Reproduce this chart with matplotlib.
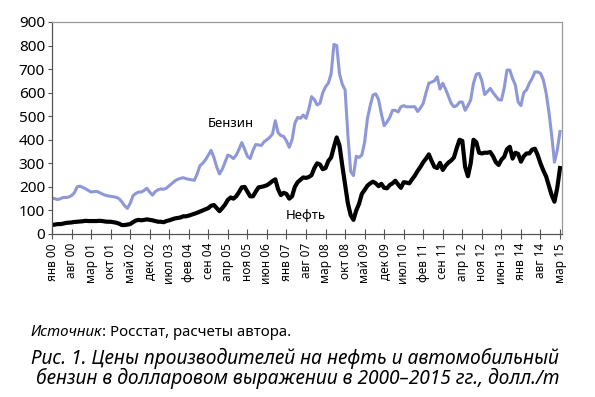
import matplotlib
matplotlib.use("Agg")
import matplotlib.pyplot as plt
import numpy as np

plt.rcParams["font.family"] = ["Noto Sans", "DejaVu Sans"]

# monthly producer prices, USD per tonne, Jan 2000 .. Mar 2015
benzin = [
    152, 150, 146, 150, 155, 155, 157, 163, 175, 200, 203, 198,  # 2000
    192, 185, 178, 180, 181, 176, 170, 165, 162, 160, 158, 156,  # 2001
    150, 137, 120, 109, 130, 162, 172, 178, 178, 185, 194, 178,  # 2002
    165, 180, 188, 191, 190, 195, 205, 215, 225, 232, 236, 239,  # 2003
    235, 232, 230, 228, 255, 290, 300, 315, 335, 355, 325, 285,  # 2004
    255, 275, 305, 335, 330, 320, 335, 360, 388, 360, 330, 320,  # 2005
    355, 380, 378, 376, 392, 400, 410, 425, 481, 430, 418, 414,  # 2006
    395, 368, 400, 470, 495, 491, 505, 491, 530, 583, 570, 548,  # 2007
    555, 600, 625, 640, 680, 805, 800, 680, 635, 612, 420, 265,  # 2008
    248, 330, 325, 335, 390, 490, 545, 590, 595, 570, 510, 460,  # 2009
    475, 495, 525, 525, 518, 540, 545, 540, 540, 540, 540, 520,  # 2010
    535, 555, 600, 640, 645, 650, 668, 615, 640, 615, 585, 555,  # 2011
    540, 545, 560, 560, 525, 545, 570, 640, 678, 682, 650, 592,  # 2012
    605, 618, 600, 585, 570, 568, 620, 696, 696, 660, 632, 560,  # 2013
    545, 600, 612, 640, 660, 688, 688, 682, 655, 600, 520, 420,  # 2014
    305, 355, 435,                                               # 2015
]

neft = [
    38, 40, 42, 42, 44, 47, 48, 49, 51, 52, 53, 54,              # 2000
    56, 55, 55, 55, 55, 56, 55, 53, 52, 52, 50, 48,              # 2001
    44, 38, 38, 40, 42, 50, 57, 60, 58, 60, 62, 60,              # 2002
    58, 55, 52, 52, 50, 55, 58, 62, 66, 68, 70, 75,              # 2003
    75, 78, 82, 86, 90, 95, 100, 105, 110, 120, 123, 110,        # 2004
    97, 110, 125, 145, 155, 150, 160, 178, 198, 200, 180, 160,   # 2005
    160, 180, 198, 200, 203, 207, 215, 225, 232, 190, 165, 175,  # 2006
    170, 150, 160, 200, 220, 230, 240, 238, 242, 250, 280, 300,  # 2007
    295, 275, 280, 310, 325, 370, 410, 375, 290, 210, 130, 80,   # 2008
    60, 100, 128, 170, 187, 205, 215, 222, 215, 203, 213, 196,   # 2009
    194, 208, 215, 226, 210, 196, 220, 218, 215, 232, 248, 268,  # 2010
    285, 305, 320, 338, 310, 285, 280, 302, 272, 290, 303, 312,  # 2011
    325, 365, 400, 395, 285, 245, 300, 400, 390, 345, 342, 345,  # 2012
    345, 348, 330, 305, 293, 315, 328, 360, 370, 320, 345, 340,  # 2013
    307, 330, 342, 342, 358, 362, 335, 300, 270, 245, 205, 165,  # 2014
    137, 195, 280,                                               # 2015
]

tick_labels = [
    "янв 00", "авг 00", "мар 01", "окт 01", "май 02", "дек 02", "июл 03",
    "фев 04", "сен 04", "апр 05", "ноя 05", "июн 06", "янв 07", "авг 07",
    "мар 08", "окт 08", "май 09", "дек 09", "июл 10", "фев 11", "сен 11",
    "апр 12", "ноя 12", "июн 13", "янв 14", "авг 14", "мар 15",
]

months = np.arange(len(benzin))

fig = plt.figure(figsize=(5.95, 3.97), dpi=100)
ax = fig.add_axes([0.0874, 0.4106, 0.8571, 0.534])

ax.plot(months, benzin, color="#8E98D6", lw=2.2, solid_joinstyle="round")
ax.plot(months, neft, color="black", lw=3.0, solid_joinstyle="round")

ax.set_xlim(0, 182.7)
ax.set_ylim(0, 900)
ax.set_yticks(range(0, 901, 100))
ax.set_xticks(months[::7])
ax.set_xticklabels(tick_labels, rotation=90, fontsize=8.5)
ax.tick_params(axis="x", direction="inout", length=7, width=0.8, color="#555555", pad=3)
ax.tick_params(axis="y", direction="out", length=3, width=0.8, color="#555555",
               labelsize=11, pad=2)

for side in ["left", "bottom"]:
    ax.spines[side].set_color("#555555")
    ax.spines[side].set_linewidth(0.9)
for side in ["top", "right"]:
    ax.spines[side].set_color("#9A9A9A")
    ax.spines[side].set_linewidth(0.9)

ax.text(64, 470, "Бензин", fontsize=9.5, ha="center", va="center")
ax.text(91, 80, "Нефть", fontsize=9.5, ha="center", va="center")

# caption: italic "Источник" followed by upright text
src = fig.text(0.052, 0.162, "Источник", fontsize=10.8, style="italic", va="center")
fig.canvas.draw()
bb = src.get_window_extent(fig.canvas.get_renderer())
x_next = bb.x1 / fig.bbox.width
fig.text(x_next, 0.162, ": Росстат, расчеты автора.", fontsize=10.8, va="center")
fig.text(0.052, 0.096, "Рис. 1. Цены производителей на нефть и автомобильный",
         fontsize=13.8, style="italic", va="center")
fig.text(0.06, 0.048, "бензин в долларовом выражении в 2000–2015 гг., долл./т",
         fontsize=13.8, style="italic", va="center")

fig.savefig("out.png", dpi=100)
